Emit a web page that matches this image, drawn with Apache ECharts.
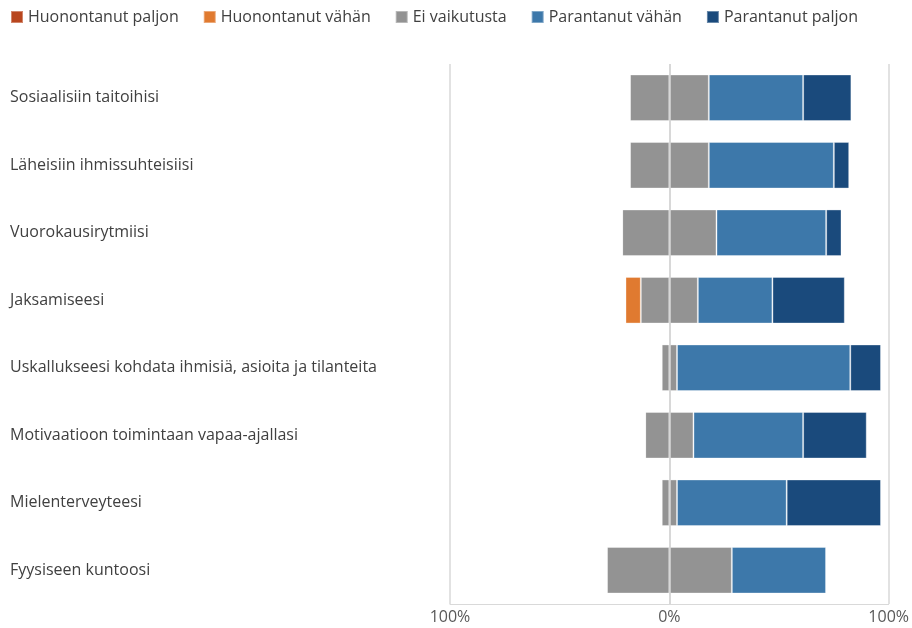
<!DOCTYPE html>
<html>
<head>
<meta charset="utf-8">
<script src="https://cdn.jsdelivr.net/npm/echarts@6/dist/echarts.min.js"></script>
<style>
  html, body { margin: 0; padding: 0; background: #fff; }
  #chart { width: 912px; height: 628px; }
</style>
</head>
<body>
<div id="chart"></div>
<script>
// kategoriat ja osuudet (%)
var categories = [
  "Sosiaalisiin taitoihisi",
  "Läheisiin ihmissuhteisiisi",
  "Vuorokausirytmiisi",
  "Jaksamiseesi",
  "Uskallukseesi kohdata ihmisiä, asioita ja tilanteita",
  "Motivaatioon toimintaan vapaa-ajallasi",
  "Mielenterveyteesi",
  "Fyysiseen kuntoosi"
];
var huonontanutPaljon = [0, 0, 0, 0, 0, 0, 0, 0];
var huonontanutVahan = [0, 0, 0, 7, 0, 0, 0, 0];
var eiVaikutusta = [36, 36, 43, 26, 7, 22, 7, 57];
var parantanutVahan = [43, 57, 50, 34, 79, 50, 50, 43];
var parantanutPaljon = [22, 7, 7, 33, 14, 29, 43, 0];
var xTicks = [-100, 0, 100];

var colors = {
  huonPaljon: "#b8461e",
  huonVahan: "#e07a30",
  ei: "#939393",
  parVahan: "#3d78aa",
  parPaljon: "#1a4a7c"
};

var font = "'Open Sans', 'Noto Sans', sans-serif";
var chart = echarts.init(document.getElementById("chart"));

function bar(name, data, color, extra) {
  var s = {
    name: name,
    type: "bar",
    stack: "total",
    barWidth: "69%",
    data: data,
    itemStyle: { color: color, borderColor: "rgba(255,255,255,0.35)", borderWidth: 1 },
    emphasis: { disabled: true }
  };
  return Object.assign(s, extra || {});
}

chart.setOption({
  animation: false,
  textStyle: { fontFamily: font },
  legend: {
    left: 5,
    top: 4,
    icon: "rect",
    itemWidth: 12,
    itemHeight: 12,
    itemGap: 24,
    textStyle: { fontSize: 16, color: "#404040", fontFamily: font },
    data: ["Huonontanut paljon", "Huonontanut vähän", "Ei vaikutusta", "Parantanut vähän", "Parantanut paljon"]
  },
  grid: { left: 450, right: 22, top: 64, bottom: 24 },
  xAxis: {
    type: "value",
    min: xTicks[0],
    max: xTicks[2],
    interval: 100,
    axisLine: { show: true, lineStyle: { color: "#d9d9d9" } },
    axisTick: { show: false },
    splitLine: { lineStyle: { color: "#d9d9d9", width: 1.5 } },
    axisLabel: {
      margin: 5,
      fontSize: 16,
      color: "#595959",
      fontFamily: font,
      formatter: function (v) { return Math.abs(v) + "%"; }
    }
  },
  yAxis: {
    type: "category",
    inverse: true,
    data: categories,
    axisLine: { show: false },
    axisTick: { show: false },
    axisLabel: {
      align: "left",
      margin: 440,
      fontSize: 16,
      color: "#404040",
      fontFamily: font
    }
  },
  series: [
    bar("Ei vaikutusta", eiVaikutusta.map(function (v) { return -v / 2; }), colors.ei),
    bar("Huonontanut vähän", huonontanutVahan.map(function (v) { return -v; }), colors.huonVahan),
    bar("Huonontanut paljon", huonontanutPaljon.map(function (v) { return -v; }), colors.huonPaljon),
    bar("Ei vaikutusta", eiVaikutusta.map(function (v) { return v / 2; }), colors.ei, {
      markLine: {
        silent: true,
        symbol: "none",
        label: { show: false },
        lineStyle: { color: "#d4d4d4", width: 1.5, type: "solid" },
        data: [{ xAxis: 0 }],
        z: 10
      }
    }),
    bar("Parantanut vähän", parantanutVahan, colors.parVahan),
    bar("Parantanut paljon", parantanutPaljon, colors.parPaljon)
  ]
});
</script>
</body>
</html>
